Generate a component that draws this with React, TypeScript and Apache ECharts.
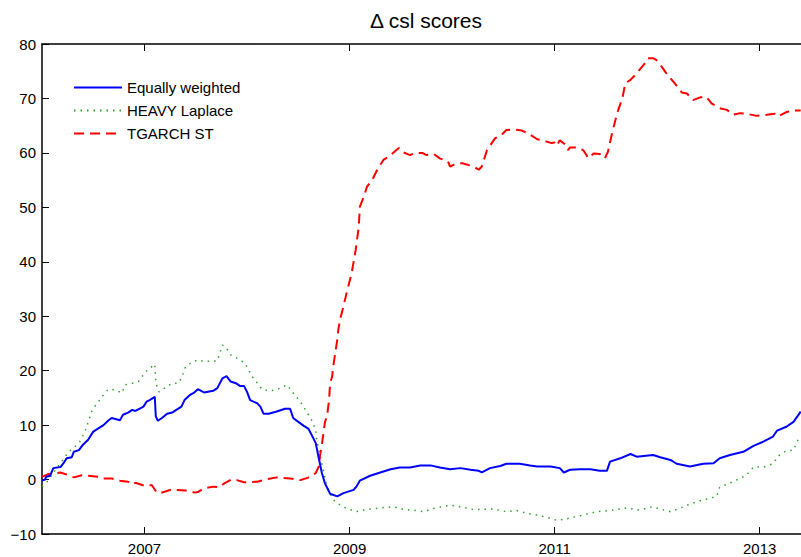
import React, { useEffect, useRef } from "react";
import * as echarts from "echarts";

const seriesNames = ["Equally weighted", "HEAVY Laplace", "TGARCH ST"];
const yearTicks = [2007, 2009, 2011, 2013];

// [decimal year, value]
const equallyWeighted: [number, number][] = [
  [2006.0, -0.2], [2006.03, 0], [2006.04, 0.5], [2006.08, 0.7], [2006.11, 2.1], [2006.18, 2.3],
  [2006.21, 3.0], [2006.24, 3.9], [2006.29, 4.1], [2006.31, 5.1], [2006.36, 5.4], [2006.4, 6.4],
  [2006.45, 7.3], [2006.5, 8.8], [2006.55, 9.4], [2006.6, 10.0], [2006.65, 10.9], [2006.68, 11.3],
  [2006.76, 10.9], [2006.79, 11.9], [2006.84, 12.3], [2006.88, 12.8], [2006.91, 12.6], [2006.94, 12.9],
  [2006.99, 13.4], [2007.02, 14.3], [2007.05, 14.6], [2007.1, 15.2], [2007.11, 11.6], [2007.13, 10.8],
  [2007.17, 11.3], [2007.22, 12.1], [2007.27, 12.3], [2007.31, 12.8], [2007.36, 13.4], [2007.39, 14.6],
  [2007.44, 15.5], [2007.48, 15.9], [2007.52, 16.6], [2007.58, 16.0], [2007.67, 16.3], [2007.71, 16.8],
  [2007.76, 18.6], [2007.8, 19.0], [2007.84, 18.0], [2007.89, 17.7], [2007.93, 17.2], [2007.97, 17.2],
  [2008.0, 16.1], [2008.03, 14.6], [2008.1, 14.0], [2008.13, 13.4], [2008.16, 12.1], [2008.21, 12.1],
  [2008.29, 12.5], [2008.37, 13.0], [2008.42, 13.0], [2008.45, 11.3], [2008.5, 10.6], [2008.55, 9.9],
  [2008.6, 9.3], [2008.63, 8.2], [2008.67, 6.7], [2008.69, 4.8], [2008.71, 3.0], [2008.73, 1.2],
  [2008.76, -0.7], [2008.81, -2.6], [2008.88, -3.1], [2008.94, -2.5], [2009.04, -1.9], [2009.07, -1.2],
  [2009.1, -0.2], [2009.2, 0.7], [2009.3, 1.3], [2009.4, 1.9], [2009.49, 2.2], [2009.59, 2.2],
  [2009.69, 2.6], [2009.79, 2.6], [2009.88, 2.2], [2009.98, 1.9], [2010.08, 2.1], [2010.18, 1.8],
  [2010.26, 1.6], [2010.29, 1.3], [2010.37, 2.1], [2010.47, 2.5], [2010.53, 2.9], [2010.66, 2.9],
  [2010.76, 2.6], [2010.83, 2.4], [2010.96, 2.4], [2011.05, 2.1], [2011.09, 1.3], [2011.15, 1.8],
  [2011.25, 1.9], [2011.35, 1.9], [2011.44, 1.6], [2011.51, 1.6], [2011.54, 3.3], [2011.64, 3.9],
  [2011.74, 4.7], [2011.8, 4.2], [2011.96, 4.5], [2012.03, 4.1], [2012.13, 3.6], [2012.19, 2.9],
  [2012.32, 2.4], [2012.45, 2.9], [2012.55, 3.0], [2012.61, 3.9], [2012.71, 4.5], [2012.84, 5.1],
  [2012.94, 6.2], [2013.04, 7.0], [2013.13, 7.9], [2013.17, 9.0], [2013.26, 9.7], [2013.33, 10.6],
  [2013.39, 12.2], [2013.4, 12.5],
];

const heavyLaplace: [number, number][] = [
  [2006.0, -1.3], [2006.05, -0.4], [2006.11, 1.2], [2006.19, 3.3], [2006.26, 5.1], [2006.32, 6.0],
  [2006.37, 7.0], [2006.42, 8.8], [2006.49, 12.8], [2006.55, 14.3], [2006.62, 16.1], [2006.65, 16.6],
  [2006.71, 16.5], [2006.78, 15.9], [2006.81, 17.4], [2006.88, 17.7], [2006.94, 18.0], [2007.01, 19.8],
  [2007.05, 20.4], [2007.1, 21.2], [2007.11, 17.7], [2007.14, 16.1], [2007.18, 16.6], [2007.27, 17.7],
  [2007.33, 17.7], [2007.36, 18.6], [2007.4, 20.7], [2007.46, 21.5], [2007.52, 22.0], [2007.58, 21.7],
  [2007.71, 21.8], [2007.76, 24.7], [2007.79, 24.4], [2007.84, 22.9], [2007.9, 22.3], [2007.98, 21.4],
  [2008.05, 18.9], [2008.15, 16.5], [2008.23, 16.3], [2008.29, 16.5], [2008.39, 17.4], [2008.45, 15.9],
  [2008.52, 14.3], [2008.58, 12.5], [2008.63, 10.9], [2008.67, 9.1], [2008.68, 7.3], [2008.71, 4.5],
  [2008.75, 1.2], [2008.78, -1.3], [2008.84, -3.7], [2008.91, -4.7], [2008.97, -5.3], [2009.06, -5.9],
  [2009.17, -5.5], [2009.3, -5.2], [2009.43, -5.0], [2009.53, -5.5], [2009.66, -5.7], [2009.72, -5.9],
  [2009.82, -5.3], [2009.98, -4.7], [2010.11, -5.1], [2010.21, -5.5], [2010.4, -5.4], [2010.53, -5.9],
  [2010.63, -5.7], [2010.73, -6.2], [2010.83, -6.5], [2010.96, -7.1], [2011.02, -7.5], [2011.12, -7.2],
  [2011.28, -6.5], [2011.41, -5.9], [2011.54, -5.7], [2011.7, -5.2], [2011.83, -5.6], [2011.95, -5.0],
  [2012.13, -5.9], [2012.23, -5.2], [2012.32, -4.5], [2012.42, -3.9], [2012.58, -3.1], [2012.61, -1.4],
  [2012.74, -0.4], [2012.87, 0.8], [2012.94, 2.3], [2013.04, 2.3], [2013.13, 2.9], [2013.18, 4.3],
  [2013.26, 5.3], [2013.33, 5.4], [2013.38, 7.6], [2013.4, 8.0],
];

const tgarchSt: [number, number][] = [
  [2006.0, 0.5], [2006.06, 1.0], [2006.18, 1.3], [2006.26, 0.8], [2006.31, 0.4], [2006.39, 0.8],
  [2006.45, 0.7], [2006.55, 0.5], [2006.58, 0.2], [2006.68, 0.2], [2006.76, -0.2], [2006.84, -0.4],
  [2006.88, -0.9], [2006.91, -0.6], [2007.01, -1.2], [2007.07, -1.0], [2007.12, -2.4], [2007.15, -2.5],
  [2007.27, -1.8], [2007.3, -1.9], [2007.4, -2.0], [2007.49, -2.4], [2007.52, -2.3], [2007.58, -1.6],
  [2007.67, -1.3], [2007.74, -1.4], [2007.77, -0.8], [2007.85, 0.05], [2007.9, -0.1], [2007.97, -0.5],
  [2008.1, -0.4], [2008.19, 0.05], [2008.29, 0.4], [2008.42, 0.2], [2008.52, -0.1], [2008.62, 0.5],
  [2008.67, 1.2], [2008.7, 2.4], [2008.71, 4.2], [2008.73, 6.4], [2008.76, 10.6], [2008.78, 11.6],
  [2008.8, 14.6], [2008.81, 17.7], [2008.83, 18.9], [2008.84, 20.7], [2008.86, 23.2], [2008.88, 25.7],
  [2008.89, 27.5], [2008.91, 29.6], [2008.94, 31.8], [2008.97, 34.2], [2009.02, 37.9], [2009.06, 42.2],
  [2009.09, 46.5], [2009.1, 50.1], [2009.14, 52.0], [2009.17, 53.8], [2009.22, 55.0], [2009.27, 56.9],
  [2009.33, 58.7], [2009.38, 59.3], [2009.48, 60.9], [2009.51, 60.2], [2009.59, 59.6], [2009.64, 60.0],
  [2009.71, 60.0], [2009.75, 59.6], [2009.82, 59.8], [2009.88, 59.0], [2009.96, 58.4], [2009.98, 57.5],
  [2010.05, 58.1], [2010.1, 58.1], [2010.21, 57.5], [2010.26, 56.9], [2010.29, 57.5], [2010.34, 60.5],
  [2010.42, 62.7], [2010.47, 63.1], [2010.53, 64.2], [2010.6, 64.3], [2010.68, 64.1], [2010.74, 63.6],
  [2010.83, 62.5], [2010.88, 62.3], [2010.97, 61.8], [2011.0, 61.9], [2011.02, 61.3], [2011.05, 62.3],
  [2011.1, 61.6], [2011.13, 60.5], [2011.15, 61.0], [2011.22, 61.0], [2011.25, 60.7], [2011.28, 60.5],
  [2011.33, 59.0], [2011.38, 59.9], [2011.44, 59.8], [2011.49, 59.0], [2011.52, 60.2], [2011.56, 63.6],
  [2011.61, 67.3], [2011.66, 70.0], [2011.69, 72.8], [2011.74, 73.4], [2011.8, 74.6], [2011.87, 76.2],
  [2011.91, 77.4], [2011.96, 77.4], [2011.99, 77.1], [2012.03, 76.2], [2012.09, 74.6], [2012.13, 73.7],
  [2012.17, 72.8], [2012.24, 71.1], [2012.29, 70.9], [2012.35, 69.7], [2012.42, 70.2], [2012.48, 70.3],
  [2012.53, 69.1], [2012.61, 68.2], [2012.68, 67.9], [2012.74, 67.0], [2012.81, 67.3], [2012.87, 67.2],
  [2012.97, 66.8], [2013.07, 67.0], [2013.15, 67.2], [2013.18, 66.7], [2013.26, 67.5], [2013.33, 67.8],
  [2013.4, 67.8],
];

const FONT = "'Liberation Sans', Arial, Helvetica, sans-serif";

export default function App() {
  const ref = useRef<HTMLDivElement>(null);
  useEffect(() => {
    if (!ref.current) return;
    const chart = echarts.init(ref.current, null, { renderer: "svg" });
    const xCommon = {
      type: "value" as const,
      min: 2006,
      max: 2013.403,
      splitLine: { show: false },
      axisLine: { show: true, onZero: false, lineStyle: { color: "#000", width: 1.5 } },
      axisTick: {
        show: true,
        inside: true,
        length: 7,
        customValues: yearTicks,
        lineStyle: { color: "#000", width: 1 },
      },
    };
    chart.setOption({
      animation: false,
      backgroundColor: "#fff",
      title: {
        text: "\u0394 csl scores",
        left: 426,
        top: 10,
        padding: 0,
        textAlign: "center",
        textStyle: { fontFamily: FONT, fontSize: 21, fontWeight: "normal", color: "#000" },
      },
      legend: {
        orient: "vertical",
        left: 73,
        top: 80,
        itemWidth: 48,
        itemHeight: 14,
        itemGap: 8,
        padding: 0,
        data: seriesNames,
        itemStyle: { opacity: 0, borderWidth: 0 },
        textStyle: { fontFamily: FONT, fontSize: 15, color: "#000" },
      },
      grid: { left: 42, right: 0, top: 44, bottom: 23, containLabel: false },
      xAxis: [
        {
          ...xCommon,
          position: "bottom",
          axisLabel: {
            show: true,
            customValues: yearTicks,
            formatter: (v: number) => String(Math.round(v)),
            fontFamily: FONT,
            fontSize: 15,
            color: "#000",
            margin: 7,
          },
        },
        {
          ...xCommon,
          position: "top",
          axisLabel: { show: false },
        },
      ],
      yAxis: {
        type: "value",
        min: -10,
        max: 80,
        interval: 10,
        splitLine: { show: false },
        axisLine: { show: true, onZero: false, lineStyle: { color: "#000", width: 1.5 } },
        axisTick: { show: true, inside: true, length: 7, lineStyle: { color: "#000" } },
        axisLabel: {
          fontFamily: FONT,
          fontSize: 15,
          color: "#000",
          margin: 6,
          formatter: (v: number) => (v < 0 ? "\u2212" + Math.abs(v) : String(v)),
        },
      },
      series: [
        {
          name: seriesNames[0],
          type: "line",
          data: equallyWeighted,
          showSymbol: false,
          symbol: "none",
          lineStyle: { color: "#0000ff", width: 2 },
          itemStyle: { color: "#0000ff" },
          z: 3,
        },
        {
          name: seriesNames[1],
          type: "line",
          data: heavyLaplace,
          showSymbol: false,
          symbol: "none",
          lineStyle: { color: "#2f9f2f", width: 1.5, type: [1.5, 5] },
          itemStyle: { color: "#2f9f2f" },
          z: 2,
        },
        {
          name: seriesNames[2],
          type: "line",
          data: tgarchSt,
          showSymbol: false,
          symbol: "none",
          lineStyle: { color: "#ff0000", width: 2, type: [10, 6] },
          itemStyle: { color: "#ff0000" },
          z: 2,
        },
      ],
    });
    return () => chart.dispose();
  }, []);
  return (
    <div
      ref={ref}
      style={{ position: "fixed", left: 0, top: 0, width: 801, height: 557, background: "#fff" }}
    />
  );
}
